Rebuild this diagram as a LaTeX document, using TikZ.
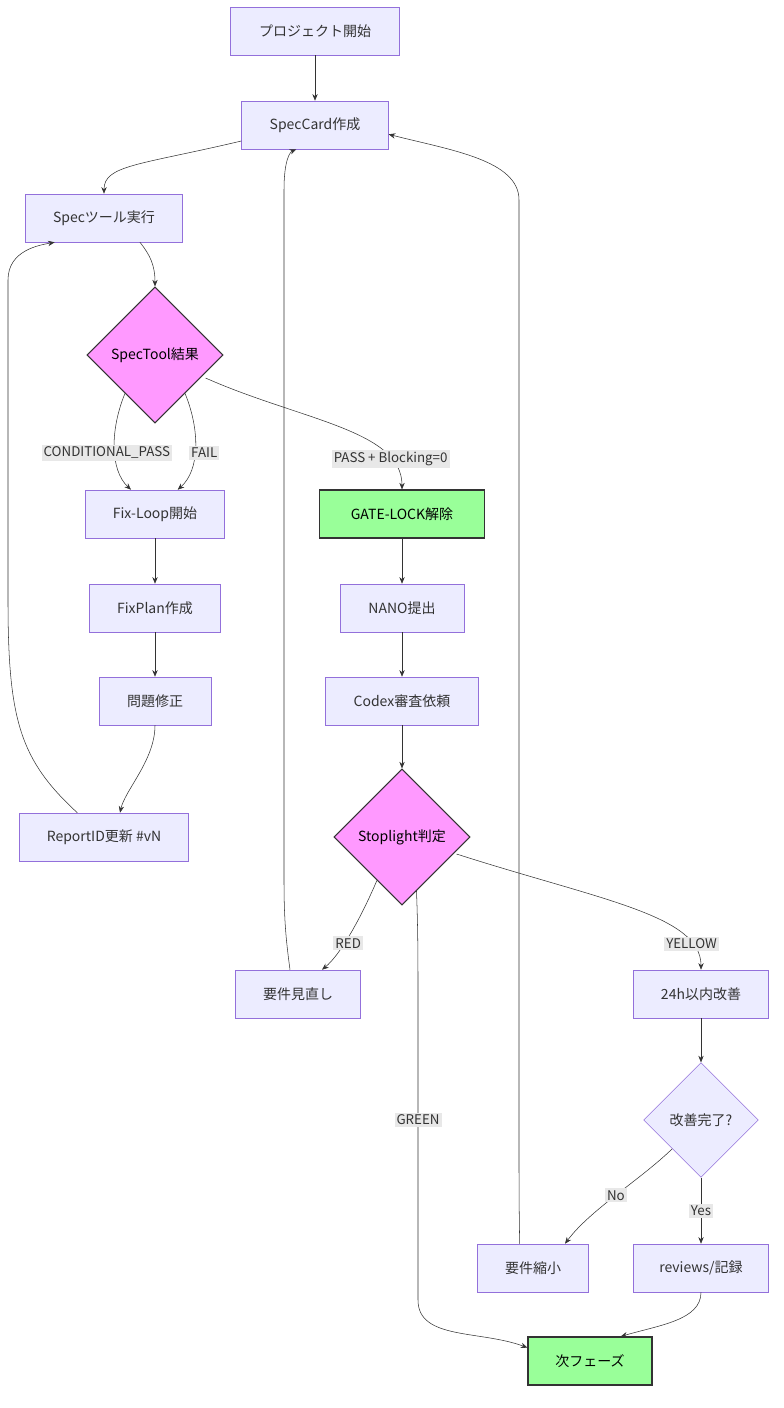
\documentclass[tikz,border=0pt]{standalone}
\usepackage{fontspec}
\setmainfont{Noto Sans CJK JP}
\usetikzlibrary{shapes.geometric,arrows.meta}
\definecolor{boxfill}{HTML}{ECECFF}
\definecolor{boxline}{HTML}{9370DB}
\definecolor{decfill}{HTML}{FF99FF}
\definecolor{okfill}{HTML}{99FF99}
\definecolor{lblfill}{HTML}{E8E8E8}
\tikzset{
  box/.style={draw=boxline,fill=boxfill,minimum height=36pt,inner xsep=0pt,font=\fontsize{10.5}{12}\selectfont,text=black!80},
  dec/.style={diamond,draw=black!80,fill=decfill,thick,minimum size=102pt,inner sep=0pt,font=\fontsize{10.5}{12}\selectfont},
  ask/.style={diamond,draw=boxline,fill=boxfill,minimum size=86pt,inner sep=0pt,font=\fontsize{10.5}{12}\selectfont,text=black!80},
  ok/.style={box,draw=black!80,fill=okfill,thick,text=black},
  arr/.style={draw=black!80,-{Stealth[length=5pt,width=4pt]}},
  lbl/.style={fill=lblfill,inner sep=1.5pt,font=\fontsize{10}{12}\selectfont,text=black!80}
}
\begin{document}
\begin{tikzpicture}[x=0.75pt,y=-0.75pt]
\useasboundingbox (0,0) rectangle (784,1408);

% nodes
\node[box,minimum width=127pt] (start) at (315,31) {プロジェクト開始};
\node[box,minimum width=110pt] (spec) at (315,125) {SpecCard作成};
\node[box,minimum width=118pt] (tool) at (104,218) {Specツール実行};
\node[dec] (res) at (155,355) {SpecTool結果};
\node[box,minimum width=104pt] (fix) at (155,514) {Fix-Loop開始};
\node[box,minimum width=98pt] (plan) at (155,608) {FixPlan作成};
\node[box,minimum width=84pt] (mod) at (155,701) {問題修正};
\node[box,minimum width=127pt] (rep) at (104,837) {ReportID更新 \#vN};
\node[ok,minimum width=124pt] (gate) at (402,514) {GATE-LOCK解除};
\node[box,minimum width=93pt] (nano) at (402,608) {NANO提出};
\node[box,minimum width=115pt] (codex) at (402,701) {Codex審査依頼};
\node[dec] (light) at (402,837) {Stoplight判定};
\node[box,minimum width=94pt] (req) at (298,994) {要件見直し};
\node[box,minimum width=101pt] (fast) at (701,994) {24h以内改善};
\node[ask] (done) at (701,1120) {改善完了?};
\node[box,minimum width=83pt] (shrink) at (533,1268) {要件縮小};
\node[box,minimum width=101pt] (rev) at (701,1268) {reviews/記録};
\node[ok,minimum width=93pt] (next) at (590,1361) {次フェーズ};

% edges
\draw[arr] (start) -- (spec);
\draw[arr] (spec.west) ++(0,16) coordinate (a1) .. controls (140,165) and (104,165) .. (tool.north);
\draw[arr] (tool.south east) ++(-43,0) .. controls (150,255) and (155,265) .. (res.north);
\draw[arr] (res.232) .. controls (110,430) and (110,470) .. node[lbl,pos=0.55,xshift=-6pt] {CONDITIONAL\_PASS} ([xshift=-18pt]fix.north);
\draw[arr] (res.308) .. controls (200,430) and (200,470) .. node[lbl,pos=0.55,xshift=7pt] {FAIL} ([xshift=17pt]fix.north);
\draw[arr] (res.east) ++(-18,23) .. controls (300,420) and (402,430) .. node[lbl,pos=0.8] {PASS + Blocking=0} (gate.north);
\draw[arr] (fix) -- (plan);
\draw[arr] (plan) -- (mod);
\draw[arr] (mod.south) .. controls (155,760) and (125,790) .. ([xshift=12pt]rep.north);
\draw[arr] ([xshift=-20pt]rep.north) .. controls (20,760) and (8,720) .. (8,600) -- (8,280) .. controls (8,250) and (40,245) .. ([xshift=-37pt]tool.south);
\draw[arr] (gate) -- (nano);
\draw[arr] (nano) -- (codex);
\draw[arr] (codex) -- (light.north);
\draw[arr] (light.240) .. controls (360,920) and (340,955) .. node[lbl,pos=0.6,xshift=3pt] {RED} ([xshift=18pt]req.north);
\draw[arr] ([xshift=-6pt]req.north) .. controls (286,940) and (284,920) .. (284,880) -- (284,190) .. controls (284,160) and (290,152) .. ([xshift=-14pt]spec.south);
\draw[arr] (light.east) ++(-14,17) .. controls (600,900) and (701,915) .. node[lbl,pos=0.82] {YELLOW} (fast.north);
\draw[arr] (light.285) .. controls (418,930) and (418,960) .. (418,1000) -- node[lbl,pos=0.4] {GREEN} (418,1300) .. controls (418,1340) and (480,1330) .. ([yshift=10pt]next.west);
\draw[arr] (fast) -- (done.north);
\draw[arr] (done.225) .. controls (640,1180) and (590,1210) .. node[lbl,pos=0.5] {No} ([xshift=24pt]shrink.north);
\draw[arr] (done.south) -- node[lbl] {Yes} (rev.north);
\draw[arr] ([xshift=-10pt]shrink.north) .. controls (519,1200) and (519,1190) .. (519,1150) -- (519,200) .. controls (519,160) and (450,150) .. ([yshift=-7pt]spec.east);
\draw[arr] (rev.south) .. controls (701,1320) and (660,1325) .. ([xshift=23pt]next.north);
\end{tikzpicture}
\end{document}
